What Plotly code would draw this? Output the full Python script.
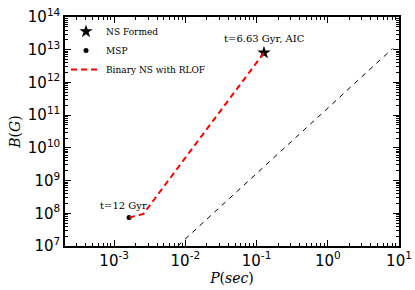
import plotly.graph_objects as go

# Data
ns_formed_P = [0.127]
ns_formed_B = [8.1e12]
msp_P = [0.00162]
msp_B = [7.4e7]
track_P = [0.00162, 0.00257, 0.127]
track_B = [7.4e7, 9.5e7, 8.1e12]
rlof_P = [0.0078, 8.1]
rlof_B = [1.0e7, 1.08e13]

xtick_vals = [1e-3, 1e-2, 1e-1, 1e0, 1e1]
xtick_text = ["10<sup>-3</sup>", "10<sup>-2</sup>", "10<sup>-1</sup>", "10<sup>0</sup>", "10<sup>1</sup>"]
ytick_vals = [1e7, 1e8, 1e9, 1e10, 1e11, 1e12, 1e13, 1e14]
ytick_text = ["10<sup>%d</sup>" % e for e in range(7, 15)]

x_minor = [m * 10.0 ** e for e in range(-4, 1) for m in range(2, 10)]
y_minor = [m * 10.0 ** e for e in range(7, 14) for m in range(2, 10)]

serif = "DejaVu Serif"
fig = go.Figure()
fig.add_trace(go.Scatter(x=ns_formed_P, y=ns_formed_B, mode="markers", name="NS Formed",
                         marker=dict(symbol="star", size=10, color="black")))
fig.add_trace(go.Scatter(x=msp_P, y=msp_B, mode="markers", name="MSP",
                         marker=dict(symbol="circle", size=5, color="black")))
fig.add_trace(go.Scatter(x=track_P, y=track_B, mode="lines", name="Binary NS with RLOF",
                         line=dict(color="red", width=2, dash="6px,4px")))
fig.add_trace(go.Scatter(x=rlof_P, y=rlof_B, mode="lines", showlegend=False,
                         line=dict(color="black", width=1, dash="5px,5px")))

fig.add_annotation(x=-0.895, y=12.91, text="t=6.63 Gyr, AIC", showarrow=False,
                   yshift=14, font=dict(family=serif, size=10, color="black"))
fig.add_annotation(x=-2.79, y=7.87, text="t=12 Gyr", showarrow=False,
                   yshift=12, xshift=-6, font=dict(family=serif, size=10, color="black"))

axis_common = dict(type="log", showgrid=False, zeroline=False, showline=True, linecolor="black",
                   linewidth=1.5, mirror="ticks", ticks="inside", ticklen=6, tickcolor="black",
                   automargin=False,
                   tickfont=dict(family="DejaVu Sans", size=15, color="black"))
fig.update_xaxes(range=[-3.69, 1], tickvals=xtick_vals, ticktext=xtick_text,
                 minor=dict(ticks="inside", ticklen=3, tickcolor="black", showgrid=False, tickvals=x_minor),
                 title=dict(text="<i>P</i>(<i>sec</i>)", font=dict(family=serif, size=14, color="black"), standoff=4),
                 **axis_common)
fig.update_yaxes(range=[7, 14], tickvals=ytick_vals, ticktext=ytick_text,
                 minor=dict(ticks="inside", ticklen=3, tickcolor="black", showgrid=False, tickvals=y_minor),
                 title=dict(text="<i>B</i>(<i>G</i>)", font=dict(family=serif, size=14, color="black"), standoff=4),
                 **axis_common)
fig.update_layout(width=415, height=290, margin=dict(l=65, r=16, t=17, b=44),
                  plot_bgcolor="white", paper_bgcolor="white",
                  legend=dict(x=0.003, y=1.0, xanchor="left", yanchor="top", bgcolor="rgba(0,0,0,0)",
                              font=dict(family=serif, size=9, color="black"), itemwidth=30,
                              tracegroupgap=0))
fig.write_html("out.html", config={"displayModeBar": False},
               post_script="document.body.style.margin='0';document.body.style.overflow='hidden';")
